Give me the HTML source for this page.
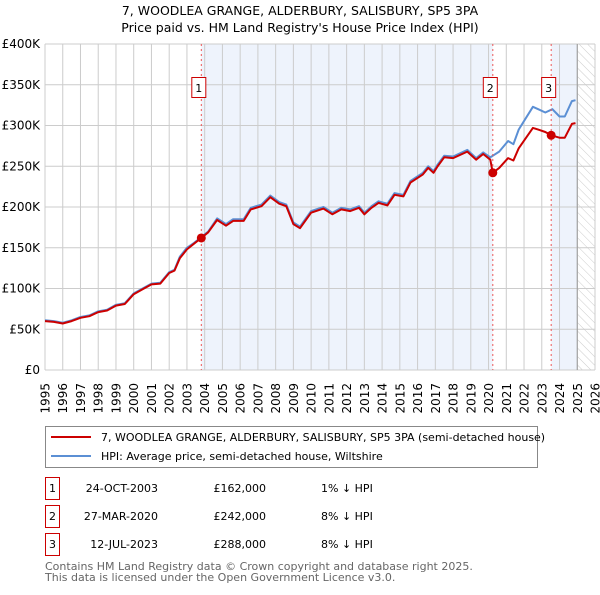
<!DOCTYPE html>
<html><head><meta charset="utf-8">
<style>
body{margin:0;background:#fff;font-family:"Liberation Sans","DejaVu Sans",sans-serif;}
svg text{font-family:"DejaVu Sans","Liberation Sans",sans-serif;}
</style></head>
<body>
<svg id="chart" width="600" height="590" viewBox="0 0 600 590" xmlns="http://www.w3.org/2000/svg">
<defs>
<pattern id="hatch" width="6" height="6" patternUnits="userSpaceOnUse" patternTransform="rotate(-45)">
<line x1="0" y1="0" x2="0" y2="6" stroke="#ccc" stroke-width="1"/>
</pattern>
<clipPath id="plotclip"><rect x="45" y="44" width="550" height="326"/></clipPath>
</defs>
<text x="300" y="15" text-anchor="middle" font-size="12.5" fill="#000">7, WOODLEA GRANGE, ALDERBURY, SALISBURY, SP5 3PA</text>
<text x="300" y="32" text-anchor="middle" font-size="12.5" fill="#000">Price paid vs. HM Land Registry's House Price Index (HPI)</text>
<g id="bg"></g>
<g id="grid"></g>
<g id="series" clip-path="url(#plotclip)"></g>
<g id="marks"></g>
<g id="axes"></g>

<g>
<rect x="45.5" y="426.5" width="492" height="41" fill="#fff" stroke="#888"/>
<line x1="51" y1="437" x2="91" y2="437" stroke="#cc0000" stroke-width="2"/>
<text x="101" y="441" font-size="11">7, WOODLEA GRANGE, ALDERBURY, SALISBURY, SP5 3PA (semi-detached house)</text>
<line x1="51" y1="456" x2="91" y2="456" stroke="#5b8fd4" stroke-width="2"/>
<text x="101" y="460" font-size="11">HPI: Average price, semi-detached house, Wiltshire</text>
</g>
<g id="table" font-size="11"></g>
<text x="45" y="570" font-size="11" fill="#666">Contains HM Land Registry data © Crown copyright and database right 2025.</text>
<text x="45" y="581" font-size="11" fill="#666">This data is licensed under the Open Government Licence v3.0.</text>
</svg>
<script>
const hpiYears=[1995,1995.5,1996,1996.5,1997,1997.5,1998,1998.5,1999,1999.5,2000,2000.5,2001,2001.5,2002,2002.3,2002.6,2003,2003.4,2003.81,2004.2,2004.7,2005.2,2005.6,2006.2,2006.6,2007.2,2007.7,2008.2,2008.6,2009.0,2009.37,2010.0,2010.7,2011.2,2011.7,2012.2,2012.7,2013.0,2013.4,2013.8,2014.3,2014.7,2015.2,2015.6,2016.3,2016.6,2016.9,2017.1,2017.5,2018.0,2018.8,2019.3,2019.7,2020.1,2020.6,2021.1,2021.4,2021.7,2022.5,2022.8,2023.2,2023.6,2024.0,2024.3,2024.7,2024.9];
const hpiValues=[61,60,58,61,65,67,72,74,80,82,94,100,106,107,120,123,139,150,156,163,170,186,179,185,185,199,203,214,206,203,181,176,195,200,193,199,197,201,193,201,207,204,217,215,232,242,250,244,251,263,262,270,260,267,261,268,281,277,295,323,320,316,320,311,311,330,331];
const priceYears=[1995,1995.5,1996,1996.5,1997,1997.5,1998,1998.5,1999,1999.5,2000,2000.5,2001,2001.5,2002,2002.3,2002.6,2003,2003.4,2003.81,2004.2,2004.7,2005.2,2005.6,2006.2,2006.6,2007.2,2007.7,2008.2,2008.6,2009.0,2009.37,2010.0,2010.7,2011.2,2011.7,2012.2,2012.7,2013.0,2013.4,2013.8,2014.3,2014.7,2015.2,2015.6,2016.3,2016.6,2016.9,2017.1,2017.5,2018.0,2018.8,2019.3,2019.7,2020.1,2020.24,2020.6,2021.1,2021.4,2021.7,2022.5,2022.8,2023.2,2023.53,2024.0,2024.3,2024.7,2024.9];
const priceValues=[60,59,57,60,64,66,71,73,79,81,93,99,105,106,119,122,137,148,155,162,169,184,177,183,183,197,201,212,204,201,179,174,193,198,191,197,195,199,191,199,205,202,215,213,230,240,248,242,249,261,260,268,258,265,258,242,248,260,257,272,297,295,292,288,285,285,302,303];
const saleLabels=["1","2","3"];
const saleYears=[2003.81,2020.24,2023.53];
const saleValues=[162,242,288];
const saleDates=["24-OCT-2003","27-MAR-2020","12-JUL-2023"];
const salePrices=["£162,000","£242,000","£288,000"];
const saleDiffs=["1% ↓ HPI","8% ↓ HPI","8% ↓ HPI"];
const yTicks=[0,50,100,150,200,250,300,350,400];
const yTickLabels=["£0","£50K","£100K","£150K","£200K","£250K","£300K","£350K","£400K"];
const xTicks=[1995,1996,1997,1998,1999,2000,2001,2002,2003,2004,2005,2006,2007,2008,2009,2010,2011,2012,2013,2014,2015,2016,2017,2018,2019,2020,2021,2022,2023,2024,2025,2026];
const dataEnd=2025;

const X0=45,X1=595,Y0=370,Y1=44;
const xS=y=>X0+(y-1995)/(2026-1995)*(X1-X0);
const yS=v=>Y0-v/400*(Y0-Y1);
const NS="http://www.w3.org/2000/svg";
function mk(parent,tag,attrs){const e=document.createElementNS(NS,tag);for(const k in attrs)e.setAttribute(k,attrs[k]);document.getElementById(parent).appendChild(e);return e;}

let r=mk('bg','rect',{x:xS(saleYears[0]),y:Y1,width:xS(saleYears[1])-xS(saleYears[0]),height:Y0-Y1,fill:'#eef3fc'});


r=mk('bg','rect',{x:xS(saleYears[2]),y:Y1,width:xS(dataEnd)-xS(saleYears[2]),height:Y0-Y1,fill:'#eef3fc'});


r=mk('bg','rect',{x:xS(dataEnd),y:Y1,width:X1-xS(dataEnd),height:Y0-Y1,fill:'url(#hatch)'});



xTicks.forEach(t=>{const l=mk('grid','line',{x1:xS(t),x2:xS(t),y1:Y1,y2:Y0,stroke:'#ccc','stroke-width':1});

});
yTicks.forEach(t=>{const l=mk('grid','line',{x1:X0,x2:X1,y1:yS(t),y2:yS(t),stroke:'#ccc','stroke-width':1});

});
let l=mk('grid','line',{x1:xS(dataEnd),x2:xS(dataEnd),y1:Y1,y2:Y0,stroke:'#999','stroke-width':1});



yTicks.forEach((t,i)=>{const e=mk('axes','text',{x:X0-5,y:yS(t)+4,'text-anchor':'end','font-size':12});e.textContent=yTickLabels[i];

});
xTicks.forEach(t=>{const x=xS(t)+4.5,y=Y0+13;const e=mk('axes','text',{x:x,y:y,'text-anchor':'end','font-size':12,transform:'rotate(-90 '+x+' '+y+')'});e.textContent=t;

});

function pts(xs,vs){return xs.map((x,i)=>xS(x).toFixed(1)+','+yS(vs[i]).toFixed(1)).join(' ');}
let p=mk('series','polyline',{points:pts(hpiYears,hpiValues),fill:'none',stroke:'#5b8fd4','stroke-width':2,'stroke-linejoin':'round'});


p=mk('series','polyline',{points:pts(priceYears,priceValues),fill:'none',stroke:'#cc0000','stroke-width':2,'stroke-linejoin':'round'});



saleYears.forEach((y,i)=>{
 const x=xS(y);
 const d=mk('marks','line',{x1:x,x2:x,y1:Y1,y2:Y0,stroke:'#ee5555','stroke-width':1,'stroke-dasharray':'2,3'});
 
 
 const c=mk('marks','circle',{cx:x,cy:yS(saleValues[i]),r:4.5,fill:'#cc0000'});
 
 
 const b=mk('marks','rect',{x:x-9.5,y:77.5,width:14,height:20,fill:'#fff',stroke:'#cc0000'});
 
 
 const t=mk('marks','text',{x:x-2.5,y:92,'text-anchor':'middle','font-size':11});
 t.textContent=saleLabels[i];
 
 
 const ry=488+i*28;
 const tb=mk('table','rect',{x:45.5,y:ry-10.5,width:14,height:22,fill:'#fff',stroke:'#cc0000'});
 
 
 const t1=mk('table','text',{x:52.5,y:ry+4,'text-anchor':'middle'});t1.textContent=saleLabels[i];
 
 
 const t2=mk('table','text',{x:158,y:ry+4,'text-anchor':'end'});t2.textContent=saleDates[i];
 
 
 const t3=mk('table','text',{x:266,y:ry+4,'text-anchor':'end'});t3.textContent=salePrices[i];
 
 
 const t4=mk('table','text',{x:321,y:ry+4});t4.textContent=saleDiffs[i];
 
 
});
</script>
</body></html>
